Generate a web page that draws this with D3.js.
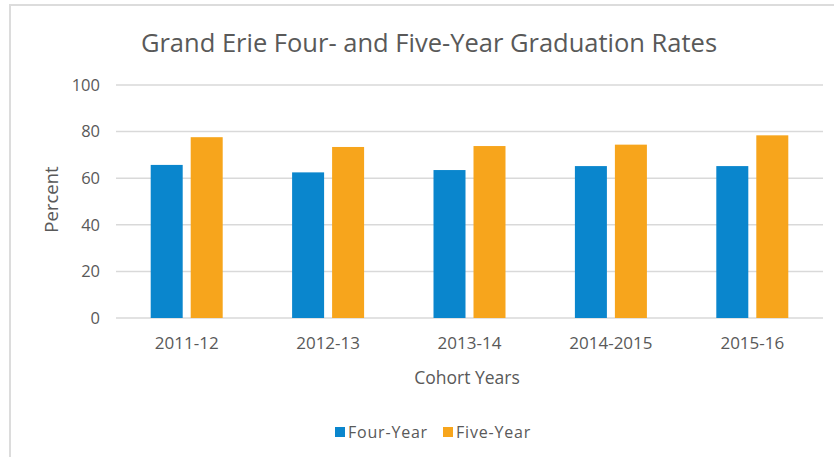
<!DOCTYPE html>
<html><head><meta charset="utf-8">
<script src="https://cdn.jsdelivr.net/npm/d3@7/dist/d3.min.js"></script>
<style>html,body{margin:0;padding:0;background:#fff;}svg{display:block;}</style>
</head><body>
<svg id="chart" width="834" height="457"></svg>
<script>
const categories = ["2011-12","2012-13","2013-14","2014-2015","2015-16"];
const seriesNames = ["Four-Year","Five-Year"];
const fourYear = [65.7, 62.5, 63.5, 65.2, 65.2];
const fiveYear = [77.6, 73.4, 73.8, 74.4, 78.4];
const yTicks = [0,20,40,60,80,100];
const colors = ["#0A86CD","#F7A51C"];
const title = "Grand Erie Four- and Five-Year Graduation Rates";

(function(){
const svg = d3.select("#chart");
const font = "'Open Sans', sans-serif";
const textColor = "#595959";

// frame
svg.append("rect").attr("x",10).attr("y",5).attr("width",840).attr("height",470)
  .attr("fill","#fff").attr("stroke","#dcdcdc").attr("stroke-width",2);

const pL=116, pR=823, pT=85, pB=318;
const x = d3.scaleBand().domain(categories).range([pL,pR]);
const y = d3.scaleLinear().domain([0,100]).range([pB,pT]);
const barW = 32, gap = 8;
const x1 = d3.scaleOrdinal().domain(seriesNames).range([-(barW+gap/2), gap/2]);

// gridlines
svg.append("g").selectAll("line").data(yTicks).join("line")
  .attr("x1",pL).attr("x2",pR)
  .attr("y1",d=>y(d)).attr("y2",d=>y(d))
  .attr("stroke","#d9d9d9").attr("stroke-width",1.5);

// y axis labels
const yAxis = d3.axisLeft(y).tickValues(yTicks).tickSize(0).tickPadding(0);
const gy = svg.append("g").attr("transform",`translate(${pL-16},0)`).call(yAxis);
gy.select(".domain").remove();
gy.selectAll("text").attr("font-family",font).attr("font-size",16.5).attr("fill",textColor);

// bars
const data = categories.map((c,i)=>({cat:c, vals:[fourYear[i], fiveYear[i]]}));
const groups = svg.append("g").selectAll("g").data(data).join("g")
  .attr("transform",d=>`translate(${x(d.cat)+x.bandwidth()/2},0)`);
groups.selectAll("rect").data(d=>d.vals.map((v,j)=>({name:seriesNames[j], v, j})))
  .join("rect")
  .attr("x",d=>x1(d.name)).attr("width",barW)
  .attr("y",d=>y(d.v)).attr("height",d=>y(0)-y(d.v))
  .attr("fill",d=>colors[d.j]);

// x axis labels
const xAxis = d3.axisBottom(x).tickSize(0).tickPadding(0);
const gx = svg.append("g").attr("transform",`translate(0,${pB+19})`).call(xAxis);
gx.select(".domain").remove();
gx.selectAll("text").attr("font-family",font).attr("font-size",17).attr("fill",textColor);

// title
svg.append("text").attr("x",429).attr("y",52).attr("text-anchor","middle")
  .attr("font-family",font).attr("font-size",25.5).attr("fill",textColor).text(title);

// axis titles
svg.append("text").attr("x",467).attr("y",384).attr("text-anchor","middle")
  .attr("font-family",font).attr("font-size",17.5).attr("fill",textColor).text("Cohort Years");
svg.append("text").attr("transform",`translate(58,${(pT+pB)/2-2}) rotate(-90)`)
  .attr("text-anchor","middle").attr("font-family",font).attr("font-size",18.5)
  .attr("fill",textColor).text("Percent");

// legend
const legend = svg.append("g");
const legX = [335, 443];
seriesNames.forEach((n,i)=>{
  legend.append("rect").attr("x",legX[i]).attr("y",427).attr("width",10).attr("height",10).attr("fill",colors[i]);
  legend.append("text").attr("x",legX[i]+13).attr("y",438)
    .attr("font-family",font).attr("font-size",16).attr("letter-spacing",0.8)
    .attr("fill",textColor).text(n);
});
})();
</script>
</body></html>
